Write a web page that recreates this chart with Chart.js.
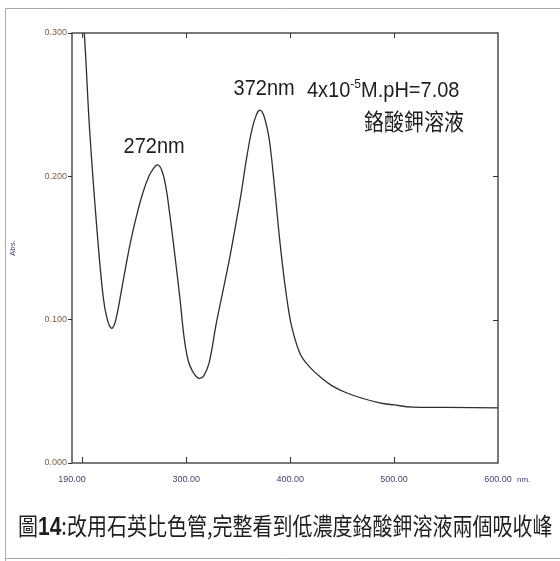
<!DOCTYPE html>
<html>
<head>
<meta charset="utf-8">
<script src="https://cdn.jsdelivr.net/npm/chart.js@4.4.1/dist/chart.umd.min.js"></script>
<style>
  html, body { margin: 0; padding: 0; background: #fff; }
  canvas { display: block; }
</style>
</head>
<body>
<canvas id="specChart" width="560" height="561"></canvas>
<script>
// ========== DATA ==========
const wavelengthNm = [190, 195, 200, 202, 207, 214, 220, 224, 228, 231, 234, 237, 241, 246, 252, 258, 264, 268, 272, 276, 280, 284, 289, 294, 298, 302, 306, 310, 313, 317, 322, 329, 335, 342, 348, 353, 357, 361, 364, 367, 370, 373, 376, 380, 385, 390, 395, 400, 404, 408, 412, 420, 429, 440, 454, 470, 486, 500, 518, 550, 600];
const absorbance   = [0.45, 0.37, 0.312, 0.298, 0.232, 0.163, 0.116, 0.100, 0.094, 0.097, 0.106, 0.118, 0.134, 0.153, 0.172, 0.188, 0.200, 0.205, 0.208, 0.205, 0.194, 0.174, 0.145, 0.114, 0.087, 0.071, 0.064, 0.060, 0.059, 0.061, 0.070, 0.098, 0.119, 0.144, 0.168, 0.189, 0.208, 0.225, 0.235, 0.242, 0.246, 0.245, 0.239, 0.225, 0.192, 0.155, 0.124, 0.100, 0.088, 0.079, 0.073, 0.066, 0.060, 0.054, 0.049, 0.045, 0.042, 0.0405, 0.039, 0.0388, 0.0385];

const xTickLabels = [190, 300, 400, 500, 600];
const xInnerMarks = [200, 300, 400, 500];
const yTickLabels = [0, 0.1, 0.2, 0.3];
const yInnerMarks = [0.1, 0.2];

const peaks = [
    { nm: 272, abs: 0.208, text: '272nm' },
    { nm: 372, abs: 0.246, text: '372nm' }
];
const concText = ['4x10', '-5', 'M.pH=7.08'];
const solutionText = '鉻酸鉀溶液';
const captionText = ['圖', '14', ':改用石英比色管,完整看到低濃度鉻酸鉀溶液兩個吸收峰'];

const LATIN = '"Liberation Sans", Arial, sans-serif';
const CJK = '"Noto Sans CJK TC", "Noto Sans CJK SC", sans-serif';

// stretched text helper (the scan is a bit taller than wide)
function stretchText(ctx, str, x, y, font, align, sy) {
    ctx.save();
    ctx.font = font;
    ctx.textAlign = align;
    ctx.textBaseline = 'alphabetic';
    ctx.translate(x, y);
    ctx.scale(1, sy);
    ctx.fillText(str, 0, 0);
    ctx.restore();
}

// ========== FRAME / LABELS PLUGIN ==========
const spectrumDecor = {
    id: 'spectrumDecor',
    afterDraw(chart) {
        const ctx = chart.ctx;
        const area = chart.chartArea;
        const xs = chart.scales.x;
        const ys = chart.scales.y;

        ctx.save();

        // outer gray border
        ctx.strokeStyle = '#a8a8a8';
        ctx.lineWidth = 1;
        ctx.beginPath();
        ctx.moveTo(5.5, 561);
        ctx.lineTo(5.5, 8.5);
        ctx.lineTo(560, 8.5);
        ctx.moveTo(5.5, 558.5);
        ctx.lineTo(560, 558.5);
        ctx.stroke();

        // plot frame
        ctx.strokeStyle = '#333';
        ctx.lineWidth = 1.3;
        ctx.strokeRect(area.left, area.top, area.right - area.left, area.bottom - area.top);

        // inward tick marks
        ctx.lineWidth = 1;
        ctx.beginPath();
        xInnerMarks.forEach(v => {
            const px = Math.round(xs.getPixelForValue(v)) + 0.5;
            ctx.moveTo(px, area.bottom);
            ctx.lineTo(px, area.bottom - 6);
            ctx.moveTo(px, area.top);
            ctx.lineTo(px, area.top + 5);
        });
        yInnerMarks.forEach(v => {
            const py = Math.round(ys.getPixelForValue(v)) + 0.5;
            ctx.moveTo(area.right, py);
            ctx.lineTo(area.right - 5, py);
        });
        ctx.stroke();

        // axis captions
        ctx.fillStyle = '#3b3f7a';
        ctx.save();
        ctx.font = '8px ' + LATIN;
        ctx.translate(13, 248);
        ctx.rotate(-Math.PI / 2);
        ctx.textAlign = 'center';
        ctx.textBaseline = 'middle';
        ctx.fillText('Abs.', 0, 0);
        ctx.restore();
        ctx.font = '8px ' + LATIN;
        ctx.textAlign = 'left';
        ctx.textBaseline = 'middle';
        ctx.fillText('nm.', 517, 480);

        // peak labels
        ctx.fillStyle = '#1e1e1e';
        peaks.forEach((p, i) => {
            const px = xs.getPixelForValue(p.nm);
            const py = ys.getPixelForValue(p.abs);
            const dx = i === 0 ? -3 : 3;
            const dy = i === 0 ? -12 : -15;
            stretchText(ctx, p.text, px + dx, py + dy, '20px ' + LATIN, 'center', 1.1);
        });

        // concentration line with superscript
        let cx = 307;
        ctx.font = '20px ' + LATIN;
        stretchText(ctx, concText[0], cx, 97, '20px ' + LATIN, 'left', 1.1);
        cx += ctx.measureText(concText[0]).width;
        ctx.font = '12px ' + LATIN;
        stretchText(ctx, concText[1], cx, 88, '12px ' + LATIN, 'left', 1.1);
        cx += ctx.measureText(concText[1]).width;
        stretchText(ctx, concText[2], cx, 97, '20px ' + LATIN, 'left', 1.1);

        // solution name
        stretchText(ctx, solutionText, 464, 130, '20px ' + CJK, 'right', 1.15);

        // caption under the chart
        let tx = 18;
        ctx.fillStyle = '#1e1e1e';
        const capFonts = ['20px ' + CJK, 'bold 21px ' + LATIN, '20px ' + CJK];
        captionText.forEach((s, i) => {
            stretchText(ctx, s, tx, 535, capFonts[i], 'left', 1.2);
            ctx.font = capFonts[i];
            tx += ctx.measureText(s).width;
        });

        ctx.restore();
    }
};

// ========== CHART ==========
const points = wavelengthNm.map((nm, i) => ({ x: nm, y: absorbance[i] }));

new Chart(document.getElementById('specChart'), {
    type: 'line',
    data: {
        datasets: [{
            data: points,
            borderColor: '#2e2e2e',
            borderWidth: 1.3,
            pointRadius: 0,
            fill: false,
            tension: 0.4
        }]
    },
    options: {
        responsive: false,
        animation: false,
        events: [],
        layout: { padding: { left: 5, top: 33, right: 62, bottom: 68 } },
        plugins: {
            legend: { display: false },
            tooltip: { enabled: false }
        },
        scales: {
            x: {
                type: 'linear',
                min: 190,
                max: 600,
                afterBuildTicks: axis => { axis.ticks = xTickLabels.map(v => ({ value: v })); },
                afterFit: scale => { scale.height = 30; },
                grid: { display: false, drawTicks: false },
                border: { display: false },
                ticks: {
                    autoSkip: false,
                    maxRotation: 0,
                    padding: 11,
                    color: '#4a3f6b',
                    font: { size: 9, family: LATIN },
                    callback: v => Number(v).toFixed(2)
                }
            },
            y: {
                type: 'linear',
                min: 0,
                max: 0.3,
                afterBuildTicks: axis => { axis.ticks = yTickLabels.map(v => ({ value: v })); },
                afterFit: scale => { scale.width = 67; },
                grid: { drawOnChartArea: false, drawTicks: true, tickLength: 4, tickColor: '#333', tickWidth: 1 },
                border: { display: false },
                ticks: {
                    padding: 1,
                    color: '#7a5f3a',
                    font: { size: 9, family: LATIN },
                    callback: v => Number(v).toFixed(3)
                }
            }
        }
    },
    plugins: [spectrumDecor]
});
</script>
</body>
</html>
